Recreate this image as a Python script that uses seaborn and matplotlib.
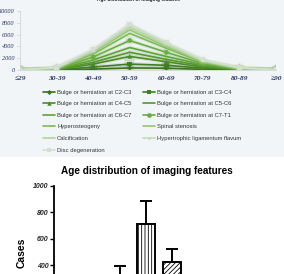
import matplotlib
matplotlib.use("Agg")
import matplotlib.pyplot as plt
import matplotlib.patheffects as pe
from matplotlib.patches import Rectangle
import numpy as np
import pandas as pd
import seaborn as sns

sns.set_theme(style="white")
plt.rcParams['font.family'] = ['Liberation Sans', 'DejaVu Sans']
plt.rcParams['hatch.linewidth'] = 0.6

# ---------------- data ----------------
ages = ["≤29", "30-39", "40-49", "50-59", "60-69", "70-79", "80-89", "≥90"]

features = [
    "Bulge or herniation at C2-C3",
    "Bulge or herniation at C3-C4",
    "Bulge or herniation at C4-C5",
    "Bulge or herniation at C5-C6",
    "Bulge or herniation at C6-C7",
    "Bulge or herniation at C7-T1",
    "Hyperosteogeny",
    "Spinal stenosis",
    "Calcification",
    "Hypertrophic ligamentum flavum",
    "Disc degeneration",
]

c2c3 = [0, 10, 150, 350, 300, 100, 20, 0]
c3c4 = [2, 30, 500, 1000, 800, 300, 50, 5]
c4c5 = [5, 60, 1000, 2300, 1400, 500, 80, 10]
c5c6 = [8, 100, 1300, 3000, 1800, 700, 120, 15]
c6c7 = [10, 140, 1700, 3800, 2300, 900, 150, 20]
c7t1 = [15, 190, 2200, 5000, 3000, 1100, 200, 25]
hyperosteogeny = [20, 250, 2700, 6200, 3700, 1300, 260, 30]
spinal_stenosis = [25, 300, 3000, 6800, 4000, 1450, 300, 35]
calcification = [30, 340, 3200, 7200, 4300, 1550, 330, 40]
hypertrophic = [40, 380, 3400, 7500, 4500, 1650, 360, 45]
disc_degeneration = [50, 420, 3500, 7800, 4700, 1750, 400, 50]

series = [c2c3, c3c4, c4c5, c5c6, c6c7, c7t1, hyperosteogeny,
          spinal_stenosis, calcification, hypertrophic, disc_degeneration]

# bar chart (bottom panel): mean cases per age group with upward error
bar_means = [30, 120, 290, 711, 425, 160, 40, 5]
bar_errs = [15, 50, 102, 178, 99, 60, 20, 3]

# ---------------- styles ----------------
colors = ['#3a731c', '#417d21', '#4a8a27', '#54972e', '#5ea335', '#6aad40',
          '#7cba52', '#94c673', '#b2d39c', '#c3dab8', '#d3e0d0']
markers = ['D', 's', '^', None, None, 'o', None, None, None, 'o', 's']
msizes = [2.6, 3.2, 3.2, 0, 0, 3.4, 0, 0, 0, 2, 3.2]

fig = plt.figure(figsize=(2.84, 2.74), dpi=100)
W, H = 284.0, 274.0

# light background of upper panel
fig.patches.append(Rectangle((0, 1 - 157 / H), 1, 157 / H, transform=fig.transFigure,
                             facecolor='#f2f5f8', edgecolor='none', zorder=-5))

# ---------------- top line chart ----------------
ax1 = fig.add_axes([20 / W, 1 - 70 / H, 256 / W, 59 / H])
ax1.set_facecolor('none')
for name, vals, col, mk, ms in zip(features, series, colors, markers, msizes):
    df = pd.DataFrame({"age": ages, "cases": vals})
    sns.lineplot(data=df, x="age", y="cases", ax=ax1, color=col, sort=False,
                 marker=mk if mk else None, markersize=ms, markeredgewidth=0,
                 linewidth=1.2, label=name)

ax1.set_xlim(0, 7)
ax1.set_ylim(0, 10000)
ax1.set_yticks(range(0, 10001, 2000))
ax1.set_yticklabels([str(v) for v in range(0, 10001, 2000)],
                    fontsize=4.5, fontstyle='italic', family='Liberation Serif', color='#2a3560')
ax1.set_xticks(range(8))
ax1.set_xticklabels(ages, fontsize=5.3, fontstyle='italic', fontweight='bold',
                    family=['Liberation Serif', 'DejaVu Serif'], color='#2a3560')
ax1.tick_params(axis='y', length=2, width=0.5, color='#c8d0c8', pad=2, left=True)
ax1.tick_params(axis='x', length=0, pad=4)
ax1.set_xlabel("")
ax1.set_ylabel("")
for s in ['top', 'right']:
    ax1.spines[s].set_visible(False)
for s in ['left', 'bottom']:
    ax1.spines[s].set_color('#d0d8d0')
    ax1.spines[s].set_linewidth(0.6)

handles, labels = ax1.get_legend_handles_labels()
ax1.get_legend().remove()
order = [0, 2, 4, 6, 8, 10, 1, 3, 5, 7, 9]
fig.legend([handles[i] for i in order], [labels[i] for i in order], ncol=2,
           loc='upper left', bbox_to_anchor=(43 / W, 1 - 89.5 / H), frameon=False,
           fontsize=4.2, handlelength=2.1, handletextpad=0.3, columnspacing=2.0,
           labelspacing=1.12, borderaxespad=0, borderpad=0, labelcolor='#333333')

# glow effect on the chart lines (after legend so handles stay plain)
for ln in ax1.get_lines():
    c = ln.get_color()
    ln.set_path_effects([pe.Stroke(linewidth=3.2, foreground=c, alpha=0.15), pe.Normal()])

fig.text(138 / W, 1 - 1.5 / H, "Age distribution of imaging features", ha='center',
         va='baseline', fontsize=3.4, fontweight='bold', color='#222222')

# ---------------- bottom bar chart ----------------
ax2 = fig.add_axes([54 / W, 1 - 317.7 / H, 210 / W, 131.7 / H])
ax2.set_facecolor('none')
bdf = pd.DataFrame({"age": ages, "cases": bar_means})
sns.barplot(data=bdf, x="age", y="cases", ax=ax2, color='white', edgecolor='black',
            linewidth=1.4, width=0.685, errorbar=None, saturation=1)
hatches = ['', '...', '\\\\\\\\', '|||||', '///////', 'xxx', '----', '++++']
for p, h in zip(ax2.patches, hatches):
    p.set_hatch(h)
    p.set_facecolor('white')
    p.set_edgecolor('black')
ax2.errorbar(x=np.arange(len(ages)), y=bar_means,
             yerr=[np.zeros(len(ages)), bar_errs], fmt='none', ecolor='black',
             elinewidth=1.4, capsize=4, capthick=1.4, zorder=1)
ax2.set_xlim(-0.5, 7.5)
ax2.set_ylim(0, 1000)
ax2.set_yticks(range(0, 1001, 200))
ax2.set_yticklabels([str(v) for v in range(0, 1001, 200)], fontsize=5,
                    fontweight='bold', fontstyle='italic')
ax2.tick_params(axis='y', length=3, width=1, color='black', pad=1, left=True)
ax2.set_xticks([])
ax2.set_xlabel("")
ax2.set_ylabel("")
for s in ['top', 'right']:
    ax2.spines[s].set_visible(False)
ax2.spines['left'].set_color('black')
ax2.spines['left'].set_linewidth(1.3)
ax2.spines['bottom'].set_color('black')
ax2.spines['bottom'].set_linewidth(1.3)

fig.text(147 / W, 1 - 171 / H, "Age distribution of imaging features", ha='center',
         va='center', fontsize=7.2, fontweight='bold', color='black')
fig.text(22 / W, 1 - 253 / H, "Cases", ha='center', va='center', rotation=90,
         fontsize=7.5, fontweight='bold', color='black')

fig.savefig("out.png", dpi=100)
